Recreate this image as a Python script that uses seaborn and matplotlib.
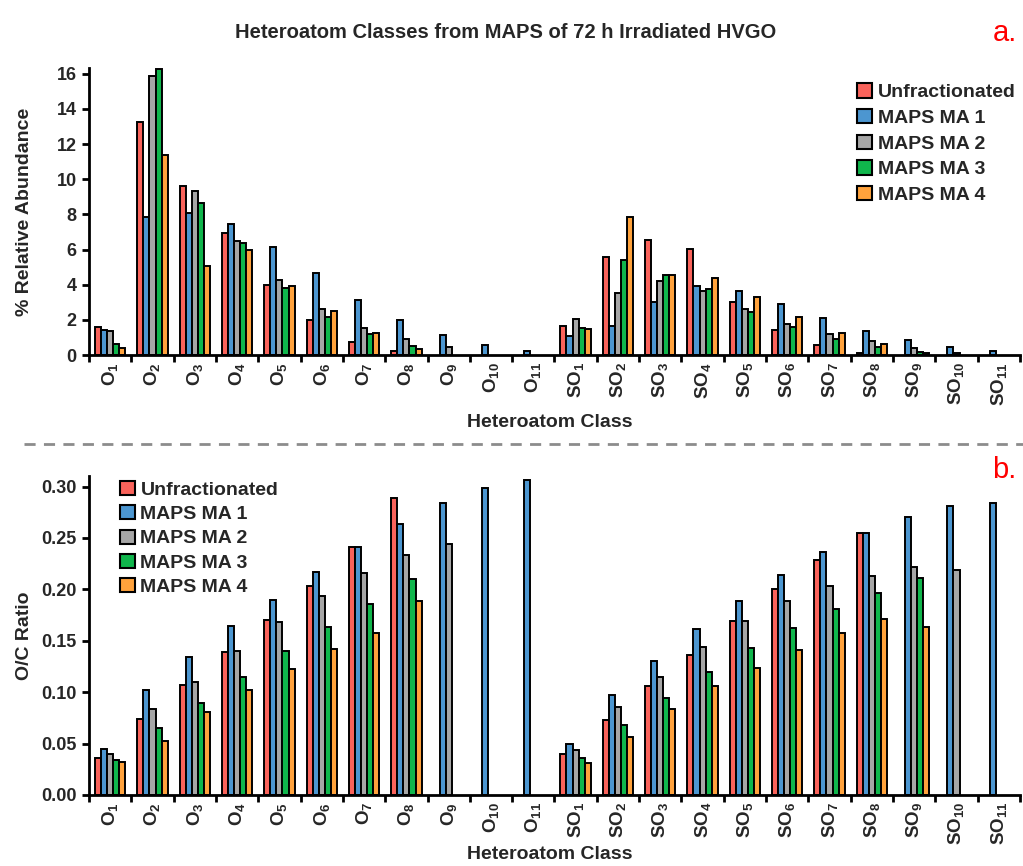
import numpy as np
import pandas as pd
import matplotlib
matplotlib.use("Agg")
import matplotlib.pyplot as plt
import seaborn as sns
from matplotlib.lines import Line2D
from matplotlib.ticker import FixedLocator

sns.set_theme(style="white")
plt.rcParams['font.family'] = ['Liberation Sans', 'DejaVu Sans']
plt.rcParams['font.weight'] = 'bold'
plt.rcParams['mathtext.default'] = 'regular'

nan = np.nan
classes = ['O$_{1}$', 'O$_{2}$', 'O$_{3}$', 'O$_{4}$', 'O$_{5}$', 'O$_{6}$', 'O$_{7}$', 'O$_{8}$',
           'O$_{9}$', 'O$_{10}$', 'O$_{11}$',
           'SO$_{1}$', 'SO$_{2}$', 'SO$_{3}$', 'SO$_{4}$', 'SO$_{5}$', 'SO$_{6}$', 'SO$_{7}$',
           'SO$_{8}$', 'SO$_{9}$', 'SO$_{10}$', 'SO$_{11}$']
series = ['Unfractionated', 'MAPS MA 1', 'MAPS MA 2', 'MAPS MA 3', 'MAPS MA 4']
colors = ['#F9635B', '#4C96D0', '#A6A6A6', '#10B64C', '#FFA23C']

# Panel a: % relative abundance
abund_unfrac = [1.58, 13.25, 9.59, 6.95, 3.96, 1.98, 0.77, 0.21, nan, nan, nan,
                1.65, 5.55, 6.55, 6.05, 3.02, 1.43, 0.60, 0.14, nan, nan, nan]
abund_ma1 = [1.43, 7.86, 8.10, 7.44, 6.16, 4.64, 3.15, 1.98, 1.13, 0.57, 0.23,
             1.10, 1.66, 3.03, 3.92, 3.62, 2.90, 2.08, 1.36, 0.83, 0.47, 0.23]
abund_ma2 = [1.36, 15.87, 9.35, 6.50, 4.24, 2.62, 1.55, 0.90, 0.43, nan, nan,
             2.06, 3.53, 4.22, 3.66, 2.60, 1.79, 1.21, 0.79, 0.42, 0.13, nan]
abund_ma3 = [0.64, 16.26, 8.67, 6.35, 3.81, 2.19, 1.19, 0.53, nan, nan, nan,
             1.53, 5.41, 4.53, 3.75, 2.43, 1.57, 0.93, 0.47, 0.17, nan, nan]
abund_ma4 = [0.38, 11.36, 5.07, 5.99, 3.90, 2.49, 1.26, 0.32, nan, nan, nan,
             1.49, 7.84, 4.53, 4.41, 3.28, 2.15, 1.27, 0.64, 0.09, nan, nan]

# Panel b: O/C ratio
oc_unfrac = [0.036, 0.074, 0.107, 0.139, 0.170, 0.203, 0.241, 0.289, nan, nan, nan,
             0.040, 0.073, 0.106, 0.136, 0.169, 0.200, 0.229, 0.255, nan, nan, nan]
oc_ma1 = [0.045, 0.102, 0.134, 0.164, 0.190, 0.217, 0.241, 0.264, 0.284, 0.299, 0.306,
          0.050, 0.097, 0.130, 0.161, 0.189, 0.214, 0.236, 0.255, 0.270, 0.281, 0.284]
oc_ma2 = [0.040, 0.084, 0.110, 0.140, 0.168, 0.194, 0.216, 0.233, 0.244, nan, nan,
          0.044, 0.086, 0.115, 0.144, 0.169, 0.189, 0.203, 0.213, 0.222, 0.219, nan]
oc_ma3 = [0.034, 0.065, 0.089, 0.115, 0.140, 0.163, 0.186, 0.210, nan, nan, nan,
          0.036, 0.068, 0.094, 0.120, 0.143, 0.162, 0.181, 0.196, 0.211, nan, nan]
oc_ma4 = [0.032, 0.053, 0.081, 0.102, 0.123, 0.142, 0.158, 0.189, nan, nan, nan,
          0.031, 0.056, 0.084, 0.106, 0.124, 0.141, 0.158, 0.171, 0.163, nan, nan]


def long_df(cols):
    rows = []
    for s, vals in zip(series, cols):
        for c, v in zip(classes, vals):
            rows.append({'cls': c, 'series': s, 'val': v})
    return pd.DataFrame(rows)


df_a = long_df([abund_unfrac, abund_ma1, abund_ma2, abund_ma3, abund_ma4])
df_b = long_df([oc_unfrac, oc_ma1, oc_ma2, oc_ma3, oc_ma4])

fig = plt.figure(figsize=(10.23, 8.66), dpi=100)
ax1 = fig.add_axes([0.087, 0.590, 0.910, 0.331])
ax2 = fig.add_axes([0.087, 0.082, 0.910, 0.368])


def draw(ax, df, ylim, yticks, ylabel, fmt, legend_loc, legend_anchor, lspace):
    sns.barplot(data=df, x='cls', y='val', hue='series', order=classes, hue_order=series,
                palette=colors, width=0.72, edgecolor='black', linewidth=1.4,
                errorbar=None, ax=ax, saturation=1)
    ax.set_xlim(-0.5, len(classes) - 0.5)
    ax.set_ylim(*ylim)
    ax.set_yticks(yticks)
    ax.set_yticklabels([fmt.format(t) for t in yticks], fontsize=13, fontweight='bold')
    ax.set_xticks(range(len(classes)))
    ax.set_xticklabels(classes, rotation=90, fontsize=13.5, fontweight='bold')
    ax.xaxis.set_minor_locator(FixedLocator(np.arange(-0.5, len(classes), 1.0)))
    ax.tick_params(axis='x', which='major', length=0, pad=5)
    ax.tick_params(axis='x', which='minor', length=5, width=2, direction='out', color='black', bottom=True)
    ax.tick_params(axis='y', which='major', length=5, width=2, direction='out', color='black', left=True, pad=4)
    for sp in ['top', 'right']:
        ax.spines[sp].set_visible(False)
    for sp in ['left', 'bottom']:
        ax.spines[sp].set_color('black')
        ax.spines[sp].set_linewidth(2)
    ax.set_xlabel('Heteroatom Class', fontsize=14, fontweight='bold')
    ax.set_ylabel(ylabel, fontsize=14, fontweight='bold')
    leg = ax.legend(loc=legend_loc, bbox_to_anchor=legend_anchor, frameon=False,
                    prop={'weight': 'bold', 'size': 14}, handlelength=0.75, handleheight=0.75,
                    handletextpad=0.3, labelspacing=lspace, borderaxespad=0)
    for h in leg.legend_handles:
        h.set_edgecolor('black')
        h.set_linewidth(1.5)


draw(ax1, df_a, (0, 16.3), [0, 2, 4, 6, 8, 10, 12, 14, 16], '% Relative Abundance', '{:.0f}',
     'upper left', (0.817, 0.975), 0.4)
draw(ax2, df_b, (0, 0.31), [0, 0.05, 0.10, 0.15, 0.20, 0.25, 0.30], 'O/C Ratio', '{:.2f}',
     'upper left', (0.025, 1.01), 0.33)

ax1.yaxis.set_label_coords(-0.06, 0.5)
ax2.yaxis.set_label_coords(-0.06, 0.5)
ax1.xaxis.set_label_coords(0.495, -0.205)
ax2.xaxis.set_label_coords(0.495, -0.16)

fig.text(0.494, 0.962, 'Heteroatom Classes from MAPS of 72 h Irradiated HVGO',
         ha='center', va='center', fontsize=14.5, fontweight='bold')
fig.text(0.970, 0.962, 'a.', color='red', fontsize=21, ha='left', va='center', fontweight='normal')
fig.text(0.970, 0.457, 'b.', color='red', fontsize=21, ha='left', va='center', fontweight='normal')
fig.add_artist(Line2D([0.023, 1.0], [0.487, 0.487], transform=fig.transFigure,
                      color='#8C8C8C', linestyle=(0, (4, 3)), linewidth=2))

fig.savefig('out.png', dpi=100)
